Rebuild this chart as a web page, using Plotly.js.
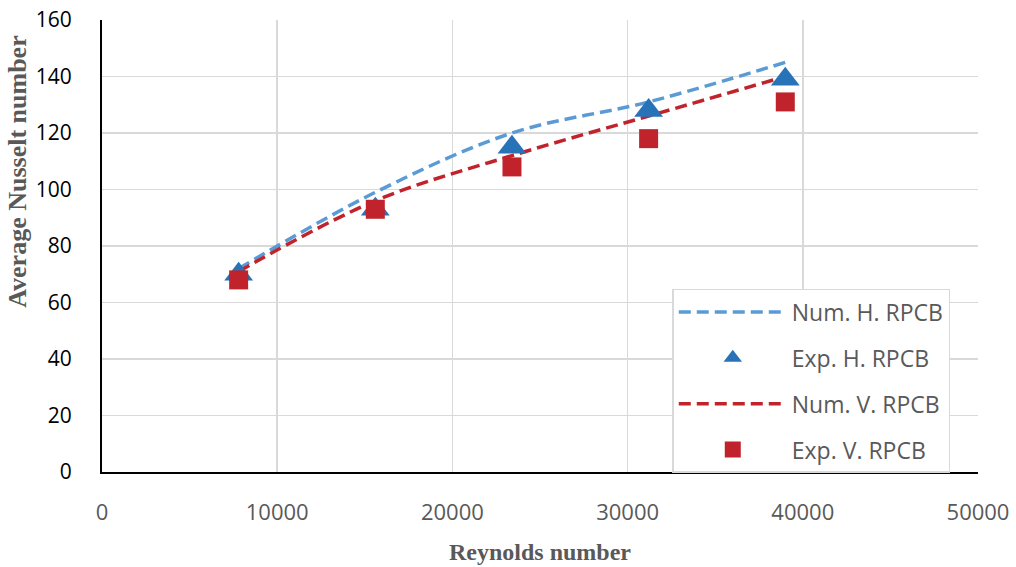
<!DOCTYPE html>
<html>
<head>
<meta charset="utf-8">
<script src="https://cdn.plot.ly/plotly-3.0.1.min.js"></script>
<style>html,body{margin:0;padding:0;background:#fff;}#chart{width:1016px;height:567px;}</style>
</head>
<body>
<div id="chart"></div>
<script>
// Data
const reynolds = [7800, 15600, 23400, 31200, 39000];
const numH = [72, 99, 120, 131, 145];
const expH = [70, 93, 115, 128, 139];
const numV = [71, 96, 112, 126, 140];
const expV = [68, 93, 108, 118, 131];
const seriesNames = ["Num. H. RPCB", "Exp. H. RPCB", "Num. V. RPCB", "Exp. V. RPCB"];
const xTitle = "Reynolds number";
const yTitle = "Average Nusselt number";

const traces = [
  {x: reynolds, y: numH, name: seriesNames[0], mode: "lines", type: "scatter",
   line: {color: "#5b9bd5", width: 3.5, dash: "12px,6px", shape: "spline", smoothing: 1},
   legendrank: 1, legendgroup: "a"},
  {x: reynolds, y: numV, name: seriesNames[2], mode: "lines", type: "scatter",
   line: {color: "#c0232b", width: 3.5, dash: "12px,6px", shape: "spline", smoothing: 1},
   legendrank: 3, legendgroup: "c"},
  {x: reynolds, y: expH, name: seriesNames[1], mode: "markers", type: "scatter",
   marker: {symbol: "triangle-up", size: 25, color: "#2872b8"},
   legendrank: 2, legendgroup: "b"},
  {x: reynolds, y: expV, name: seriesNames[3], mode: "markers", type: "scatter",
   marker: {symbol: "square", size: 19, color: "#c0232b"},
   legendrank: 4, legendgroup: "d"}
];

const layout = {
  width: 1016, height: 567,
  margin: {l: 102, r: 38, t: 20, b: 95},
  paper_bgcolor: "#ffffff", plot_bgcolor: "#ffffff",
  showlegend: true,
  xaxis: {
    range: [0, 50000], dtick: 10000, tick0: 0, tickformat: "d",
    showgrid: true, gridcolor: "#d9d9d9", gridwidth: 1.5,
    showline: true, linecolor: "#000000", linewidth: 2, zeroline: false,
    ticks: "", ticklabelstandoff: 20,
    tickfont: {family: "Open Sans, sans-serif", size: 22, color: "#595959"},
    title: {text: xTitle, standoff: 18,
      font: {family: "Liberation Serif, serif", size: 24, color: "#595959", weight: "bold"}}
  },
  yaxis: {
    range: [0, 160], dtick: 20, tick0: 0,
    showgrid: true, gridcolor: "#d9d9d9", gridwidth: 1.5,
    showline: true, linecolor: "#000000", linewidth: 2, zeroline: false,
    ticks: "", ticklabelstandoff: 24,
    tickfont: {family: "Open Sans, sans-serif", size: 21, color: "#000000"}
  },
  annotations: [{
    text: yTitle, textangle: -90, xref: "paper", yref: "paper",
    x: -0.096, y: 0.664, xanchor: "center", yanchor: "middle", showarrow: false,
    font: {family: "Liberation Serif, serif", size: 26, color: "#595959", weight: "bold"}
  }],
  legend: {
    x: 0.651, y: 0.405, xanchor: "left", yanchor: "top",
    bgcolor: "#ffffff", bordercolor: "#d9d9d9", borderwidth: 1.5,
    font: {family: "Open Sans, sans-serif", size: 23, color: "#595959"},
    itemwidth: 108, tracegroupgap: 13, traceorder: "grouped"
  }
};

Plotly.newPlot("chart", traces, layout, {staticPlot: true, displayModeBar: false});
</script>
</body>
</html>
